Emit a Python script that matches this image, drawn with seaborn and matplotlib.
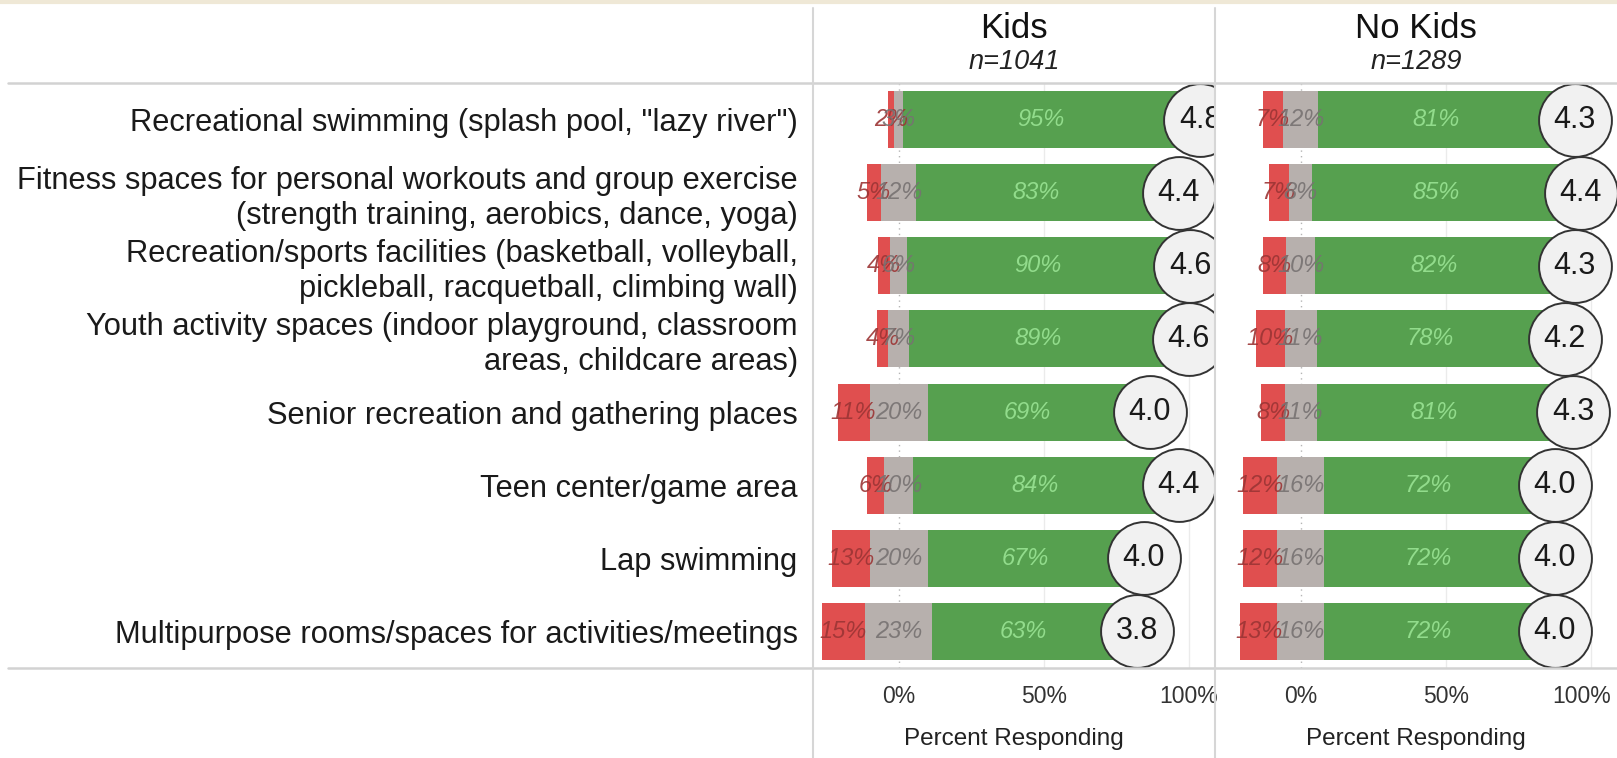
import numpy as np
import pandas as pd
import seaborn as sns
import matplotlib.pyplot as plt
from matplotlib.lines import Line2D
from matplotlib.transforms import ScaledTranslation

# ---- data ----
categories = [
    'Recreational swimming (splash pool, "lazy river")',
    "Fitness spaces for personal workouts and group exercise\n(strength training, aerobics, dance, yoga)",
    "Recreation/sports facilities (basketball, volleyball,\npickleball, racquetball, climbing wall)",
    "Youth activity spaces (indoor playground, classroom\nareas, childcare areas)",
    "Senior recreation and gathering places",
    "Teen center/game area",
    "Lap swimming",
    "Multipurpose rooms/spaces for activities/meetings",
]
kids_neg = [2, 5, 4, 4, 11, 6, 13, 15]
kids_neu = [3, 12, 6, 7, 20, 10, 20, 23]
kids_pos = [95, 83, 90, 89, 69, 84, 67, 63]
kids_mean = [4.8, 4.4, 4.6, 4.6, 4.0, 4.4, 4.0, 3.8]

nokids_neg = [7, 7, 8, 10, 8, 12, 12, 13]
nokids_neu = [12, 8, 10, 11, 11, 16, 16, 16]
nokids_pos = [81, 85, 82, 78, 81, 72, 72, 72]
nokids_mean = [4.3, 4.4, 4.3, 4.2, 4.3, 4.0, 4.0, 4.0]

panel_titles = ["Kids", "No Kids"]
panel_n = ["n=1041", "n=1289"]
x_ticks = [0, 50, 100]
x_tick_labels = ["0%", "50%", "100%"]

RED, GREY, GREEN = "#e04f4f", "#b7b0ad", "#56a04f"
RED_TXT, GREY_TXT, GREEN_TXT = "#9c3535", "#777272", "#92dc8c"

sns.set_style("white")
plt.rcParams["font.family"] = ["Liberation Sans", "DejaVu Sans"]

W, H = 1617, 758
fig = plt.figure(figsize=(W / 100, H / 100), dpi=100)

# panel geometry (pixels)
top_px, bot_px = 83, 668
panel_x = [813, 1215]
panel_w = 402


def draw_panel(ax, neg, neu, pos, means, first):
    df = pd.DataFrame({"item": categories, "neg": neg, "neu": neu, "pos": pos, "mean": means})
    df["green_end"] = df["neu"] / 2 + df["pos"]
    df["red_end"] = -(df["neu"] / 2 + df["neg"])
    df["grey_r"] = df["neu"] / 2
    df["grey_l"] = -df["neu"] / 2

    ax.axvline(0, color="#b5b5b5", lw=1, ls=(0, (1, 3)), zorder=0)
    for v in (50, 100):
        ax.axvline(v, color="#ebebeb", lw=1, zorder=0)

    # diverging stack: long bars first, grey halves on top
    for col, c in [("green_end", GREEN), ("red_end", RED), ("grey_r", GREY), ("grey_l", GREY)]:
        sns.barplot(data=df, x=col, y="item", color=c, width=0.78, saturation=1,
                    errorbar=None, ax=ax, zorder=2, linewidth=0)

    ypos = np.arange(len(df))
    for i, r in df.iterrows():
        ax.text(-(r["neu"] / 2 + r["neg"] / 2), i, f"{r['neg']}%", ha="center", va="center",
                style="italic", fontsize=17, color=RED_TXT, alpha=0.9, zorder=3)
        ax.text(0, i, f"{r['neu']}%", ha="center", va="center",
                style="italic", fontsize=17, color=GREY_TXT, alpha=0.9, zorder=3)
        ax.text(r["neu"] / 2 + r["pos"] / 2, i, f"{r['pos']}%", ha="center", va="center",
                style="italic", fontsize=17, color=GREEN_TXT, zorder=3)

    cx = df["green_end"] + 7.5
    ax.scatter(cx, ypos, s=2750, facecolor="#f1f1f1", edgecolor="#333333", lw=1.4, zorder=4)
    for i, (x, m) in enumerate(zip(cx, df["mean"])):
        ax.text(x, i, f"{m:.1f}", ha="center", va="center", fontsize=22, color="#1a1a1a", zorder=5)

    ax.set_xlim(-29.5, 109)
    ax.set_ylim(len(df) - 0.5, -0.5)
    ax.set_xticks(x_ticks, x_tick_labels)
    ax.tick_params(axis="x", length=0, pad=12, labelsize=16.5, labelcolor="#333333")
    ax.set_xlabel("Percent Responding", fontsize=17.5, color="#222222", labelpad=15)
    ax.set_ylabel("")
    if first:
        ax.tick_params(axis="y", length=0, pad=11, labelsize=22.2, labelcolor="#1a1a1a")
    else:
        ax.set_yticks([])
        # keep the last tick label inside the figure, as in the reference
        last = ax.get_xticklabels()[-1]
        last.set_transform(last.get_transform() + ScaledTranslation(-0.09, 0, fig.dpi_scale_trans))
    for s in ax.spines.values():
        s.set_visible(False)


panels = [(kids_neg, kids_neu, kids_pos, kids_mean), (nokids_neg, nokids_neu, nokids_pos, nokids_mean)]
for k, (x0, vals) in enumerate(zip(panel_x, panels)):
    ax = fig.add_axes([x0 / W, (H - bot_px) / H, panel_w / W, (bot_px - top_px) / H])
    draw_panel(ax, *vals, first=(k == 0))
    cxf = (x0 + panel_w / 2) / W
    fig.text(cxf, 1 - 29 / H, panel_titles[k], ha="center", va="center", fontsize=25, color="#111111")
    fig.text(cxf, 1 - 62 / H, panel_n[k], ha="center", va="center", fontsize=19.5,
             style="italic", color="#222222")

# frame lines
fig.add_artist(Line2D([0, 1], [1 - 1.5 / H] * 2, color="#efe8d6", lw=3))
for y in (top_px, bot_px):
    fig.add_artist(Line2D([8 / W, 1], [1 - y / H] * 2, color="#d2d2d2", lw=1.8))
for x in panel_x:
    fig.add_artist(Line2D([x / W] * 2, [0, 1 - 8 / H], color="#d6d6d6", lw=1.5))

fig.savefig("out.png", dpi=100)
